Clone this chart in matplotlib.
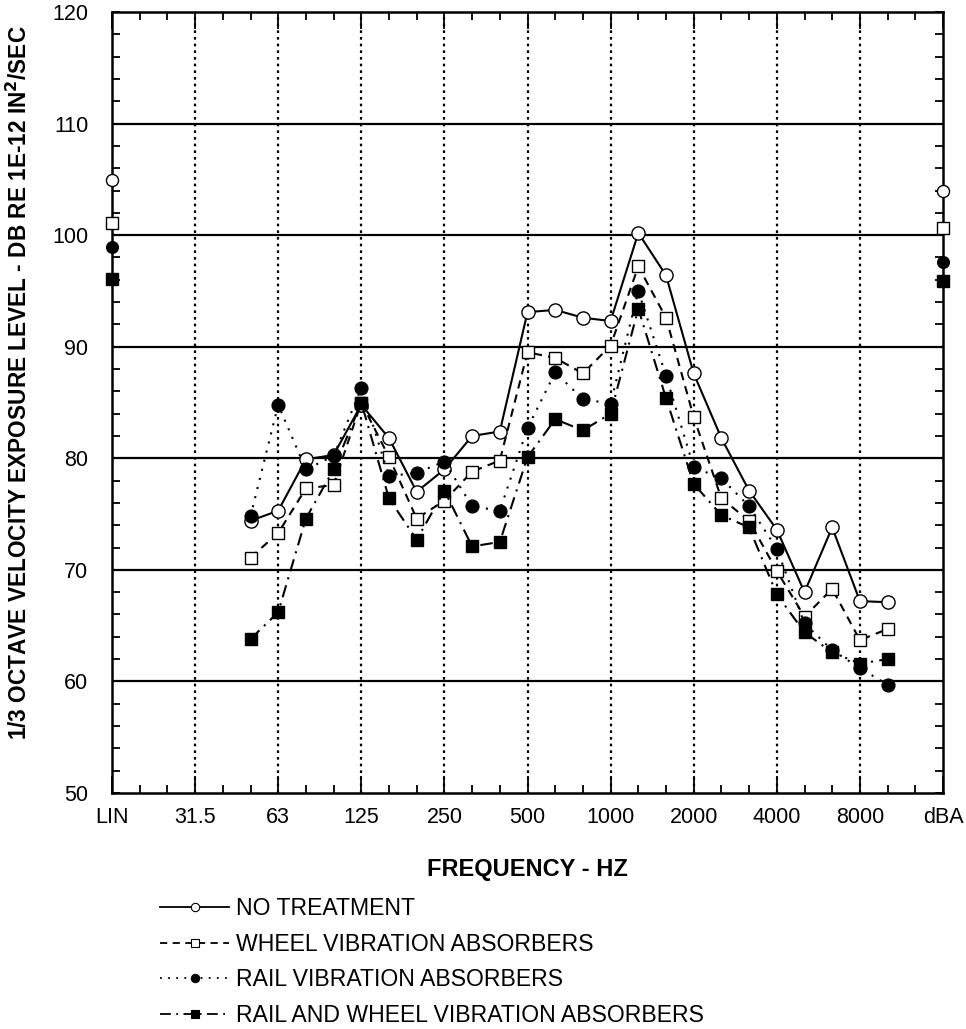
import numpy as np
import matplotlib
matplotlib.use("Agg")
import matplotlib.pyplot as plt
from matplotlib.lines import Line2D
from matplotlib.ticker import MultipleLocator, FixedLocator

plt.rcParams['font.family'] = ['Liberation Sans', 'DejaVu Sans']

# ---- data ----
axis_labels = ["LIN", "31.5", "63", "125", "250", "500", "1000", "2000", "4000", "8000", "dBA"]
all_bands = ["31.5", "40", "50", "63", "80", "100", "125", "160", "200", "250", "315", "400",
             "500", "630", "800", "1000", "1250", "1600", "2000", "2500", "3150", "4000",
             "5000", "6300", "8000", "10000"]
bands = ["50", "63", "80", "100", "125", "160", "200", "250", "315", "400", "500", "630",
         "800", "1000", "1250", "1600", "2000", "2500", "3150", "4000", "5000", "6300",
         "8000", "10000"]

no_treatment = [74.4, 75.3, 79.9, 80.3, 84.8, 81.8, 77.0, 79.0, 82.0, 82.4, 93.1, 93.3,
                92.6, 92.3, 100.2, 96.4, 87.6, 81.8, 77.1, 73.6, 68.0, 73.8, 67.2, 67.1]
wheel = [71.1, 73.3, 77.3, 77.6, 85.0, 80.1, 74.6, 76.2, 78.8, 79.8, 89.5, 89.0,
         87.6, 90.1, 97.2, 92.6, 83.7, 76.4, 74.4, 69.9, 65.8, 68.3, 63.7, 64.7]
rail = [74.8, 84.8, 79.0, 80.2, 86.3, 78.4, 78.7, 79.7, 75.7, 75.3, 82.7, 87.7,
        85.3, 84.9, 95.0, 87.4, 79.2, 78.2, 75.7, 71.9, 65.2, 62.8, 61.2, 59.7]
rail_wheel = [63.8, 66.2, 74.6, 79.0, 85.0, 76.4, 72.7, 77.1, 72.1, 72.5, 80.1, 83.5,
              82.5, 84.0, 93.4, 85.4, 77.7, 74.9, 73.8, 67.8, 64.4, 62.6, 61.6, 62.0]

lin_values = {"nt": 104.95, "wheel": 101.1, "rail": 98.9, "rw": 96.1}
dba_values = {"nt": 104.0, "wheel": 100.6, "rail": 97.6, "rw": 95.9}

labels = ["NO TREATMENT", "WHEEL VIBRATION ABSORBERS", "RAIL VIBRATION ABSORBERS",
          "RAIL AND WHEEL VIBRATION ABSORBERS"]

# x position: LIN = 0, 31.5 Hz = 1, one unit per octave (three 1/3-octave bands)
x = np.array([1 + all_bands.index(b) / 3.0 for b in bands])

fig = plt.figure(figsize=(9.66, 10.29), dpi=100)
ax = fig.add_axes([112/966, 1 - 793/1029, (943-112)/966, (793-12)/1029])

styles = [
    dict(key="nt", y=no_treatment, marker='o', mfc='white', ms=9.5, dashes=None),
    dict(key="wheel", y=wheel, marker='s', mfc='white', ms=8.8, dashes=(4, 3)),
    dict(key="rail", y=rail, marker='o', mfc='black', ms=9.2, dashes=(1, 3.5)),
    dict(key="rw", y=rail_wheel, marker='s', mfc='black', ms=9.0, dashes=(6, 3, 1, 3)),
]

handles = []
for st, lab in zip(styles, labels):
    line, = ax.plot(x, st["y"], color='black', lw=1.5, marker=st["marker"],
                    mfc=st["mfc"], mec='black', mew=1.0, ms=st["ms"], zorder=4)
    if st["dashes"] is not None:
        line.set_dashes(st["dashes"])
    ax.plot([0], [lin_values[st["key"]]], ls='none', marker=st["marker"], mfc=st["mfc"],
            mec='black', mew=1.0, ms=st["ms"] - 0.8, clip_on=False, zorder=5)
    ax.plot([10], [dba_values[st["key"]]], ls='none', marker=st["marker"], mfc=st["mfc"],
            mec='black', mew=1.0, ms=st["ms"] - 0.8, clip_on=False, zorder=5)
    h = Line2D([], [], color='black', lw=1.3, marker=st["marker"], mfc=st["mfc"],
               mec='black', mew=0.8, ms=6)
    if st["dashes"] is not None:
        h.set_dashes(st["dashes"])
    handles.append(h)

ax.set_xlim(0, 10)
ax.set_ylim(50, 120)

# grid
for yv in range(60, 120, 10):
    ax.axhline(yv, color='black', lw=1.6, zorder=2)
for xv in range(1, 10):
    ax.axvline(xv, color='black', lw=1.6, ls=(0, (1.2, 1.8)), zorder=2)

ax.xaxis.set_major_locator(FixedLocator(range(11)))
ax.set_xticklabels(axis_labels)
ax.xaxis.set_minor_locator(FixedLocator(np.arange(0, 10.01, 1/3.0)))
ax.yaxis.set_major_locator(MultipleLocator(10))
ax.yaxis.set_minor_locator(MultipleLocator(2))

ax.tick_params(axis='x', which='major', direction='in', length=12, width=1.3, top=True,
               bottom=True, labelsize=15.5, pad=10)
ax.tick_params(axis='x', which='minor', direction='in', length=6, width=1.3, top=True, bottom=True)
ax.tick_params(axis='y', which='major', direction='in', length=6, width=1.3, left=True,
               right=True, labelsize=15.5, pad=17)
ax.tick_params(axis='y', which='minor', direction='in', length=6, width=1.3, left=True, right=True)

for sp in ax.spines.values():
    sp.set_linewidth(1.8)

ax.set_xlabel("FREQUENCY - HZ", fontsize=17, fontweight='bold', labelpad=22)
ax.set_ylabel("1/3 OCTAVE VELOCITY EXPOSURE LEVEL - DB RE 1E-12 IN$^\\mathbf{2}$/SEC",
              fontsize=16.3, fontweight='bold')
ax.yaxis.set_label_coords(-0.096, 0.526)

fig.legend(handles, labels, loc='upper left', bbox_to_anchor=(160/966, 1 - 897/1029),
           frameon=False, fontsize=16.6, handlelength=3.0, handletextpad=0.3,
           labelspacing=0.55, borderaxespad=0, borderpad=0)

fig.savefig("out.png", dpi=100)
